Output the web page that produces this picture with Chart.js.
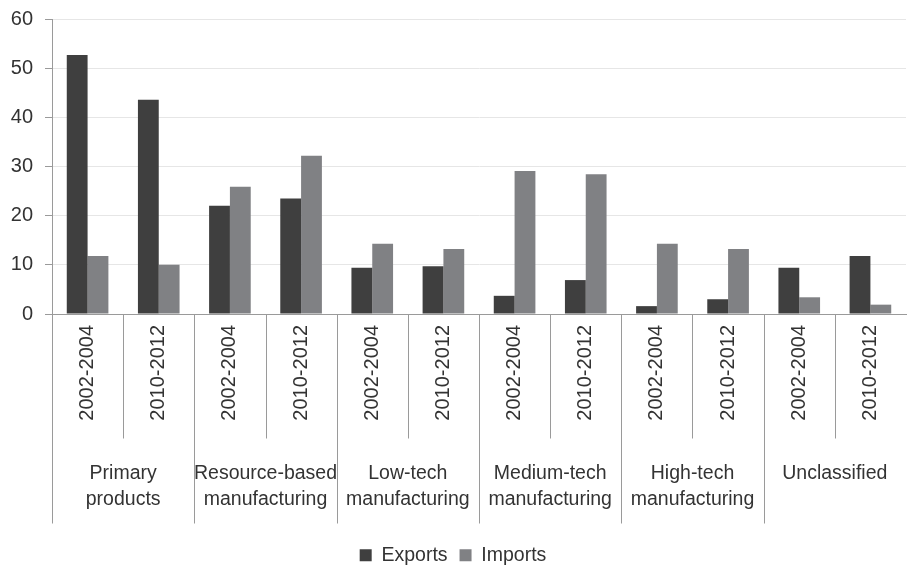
<!DOCTYPE html>
<html><head><meta charset="utf-8">
<script src="https://cdn.jsdelivr.net/npm/chart.js@4"></script>
<style>html,body{margin:0;padding:0;background:#fff}#wrap{width:907px;height:567px}</style>
</head><body><div id="wrap"><canvas id="c" width="907" height="567"></canvas></div>
<script>
const groups = [["Primary","products"],["Resource-based","manufacturing"],["Low-tech","manufacturing"],["Medium-tech","manufacturing"],["High-tech","manufacturing"],["Unclassified"]];
const periods = ["2002-2004","2010-2012"];
const categories = ["2002-2004","2010-2012","2002-2004","2010-2012","2002-2004","2010-2012","2002-2004","2010-2012","2002-2004","2010-2012","2002-2004","2010-2012"];
const exportsData = [52.7,43.6,22.0,23.5,9.4,9.7,3.7,6.9,1.6,3.0,9.4,11.8];
const importsData = [11.8,10.0,25.9,32.2,14.3,13.2,29.1,28.4,14.3,13.2,3.4,1.9];
const yMin = 0, yMax = 60, yStep = 10;

const FONT = "'Liberation Sans', Arial, sans-serif";
const TXT = '#333333';
const LINE = '#9a9a9a';

const groupAxis = {
  id: 'groupAxis',
  afterDraw(chart) {
    const x = chart.scales.x;
    const ctx = chart.ctx;
    const n = categories.length;
    const p0 = x.getPixelForValue(0), p1 = x.getPixelForValue(1);
    const half = (p1 - p0) / 2;
    const top = x.top;
    ctx.save();
    ctx.strokeStyle = LINE;
    ctx.lineWidth = 1;
    for (let i = 0; i < n; i++) {
      const bx = Math.round(x.getPixelForValue(i) - half) + 0.5;
      const len = (i % 2 === 0) ? 209.5 : 124.5;
      ctx.beginPath();
      ctx.moveTo(bx, top);
      ctx.lineTo(bx, top + len);
      ctx.stroke();
    }
    ctx.fillStyle = TXT;
    ctx.font = "19.5px " + FONT;
    ctx.textAlign = 'center';
    ctx.textBaseline = 'middle';
    groups.forEach((g, gi) => {
      const cx = (x.getPixelForValue(gi * 2) + x.getPixelForValue(gi * 2 + 1)) / 2;
      g.forEach((line, li) => {
        ctx.fillText(line, cx, top + 160 + li * 26);
      });
    });
    ctx.restore();
  }
};

new Chart(document.getElementById('c'), {
  type: 'bar',
  data: {
    labels: categories,
    datasets: [
      { label: 'Exports', data: exportsData, backgroundColor: '#3f3f3f', borderWidth: 0, categoryPercentage: 0.585, barPercentage: 1 },
      { label: 'Imports', data: importsData, backgroundColor: '#808184', borderWidth: 0, categoryPercentage: 0.585, barPercentage: 1 }
    ]
  },
  options: {
    responsive: false,
    animation: false,
    devicePixelRatio: 1,
    layout: { padding: { top: 19, right: 1, left: 0, bottom: -8 } },
    plugins: {
      tooltip: { enabled: false },
      legend: {
        position: 'bottom',
        labels: { color: TXT, font: { family: FONT, size: 19.5 }, boxWidth: 12, boxHeight: 12, padding: 12 }
      }
    },
    scales: {
      x: {
        grid: { display: false, drawTicks: false },
        border: { display: true, color: LINE, width: 1 },
        ticks: { color: TXT, font: { family: FONT, size: 20 }, minRotation: 90, maxRotation: 90, padding: 11, autoSkip: false },
        afterFit(s) { s.height = 219.5; }
      },
      y: {
        min: yMin, max: yMax,
        grid: { color: '#e6e6e6', tickColor: LINE, tickLength: 7 },
        border: { display: true, color: LINE, width: 1 },
        ticks: { stepSize: yStep, color: TXT, font: { family: FONT, size: 20 }, padding: 12 },
        afterFit(s) { s.width = 52; s.paddingTop = 0; s.paddingBottom = 0; }
      }
    }
  },
  plugins: [groupAxis]
});
</script>
</body></html>
